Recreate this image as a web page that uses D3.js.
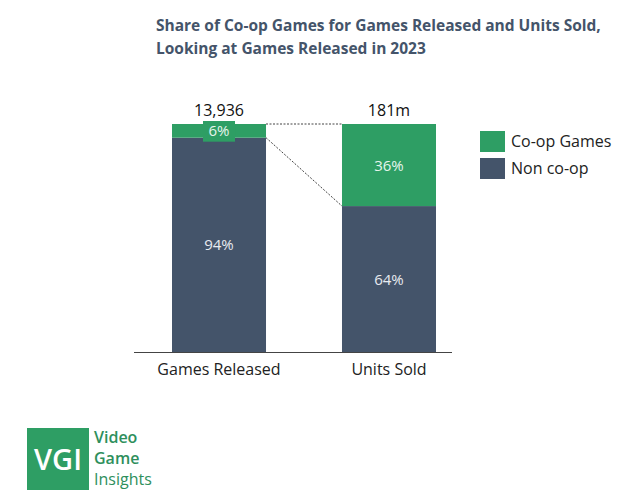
<!DOCTYPE html>
<html>
<head>
<meta charset="utf-8">
<script src="https://cdn.jsdelivr.net/npm/d3@7"></script>
<style>
  body { margin: 0; background: #fff; }
  text { font-family: "Open Sans", "Noto Sans", sans-serif; }
</style>
</head>
<body>
<div id="chart"></div>
<script>
// data
const categories = ['Games Released', 'Units Sold'];
const totals = ['13,936', '181m'];
const coop = [6, 36];
const nonCoop = [94, 64];
const seriesNames = ['Co-op Games', 'Non co-op'];
const colors = { coop: '#2e9e64', non: '#44546a' };

const svg = d3.select('#chart').append('svg')
    .attr('width', 636)
    .attr('height', 500);

// title
const title = svg.append('text')
    .attr('x', 156)
    .attr('y', 31)
    .attr('fill', '#44546a')
    .attr('font-weight', 700)
    .attr('font-size', 15.5);
title.append('tspan').attr('x', 156).text('Share of Co-op Games for Games Released and Units Sold,');
title.append('tspan').attr('x', 156).attr('dy', 23).text('Looking at Games Released in 2023');

const x = d3.scaleBand()
    .domain(categories)
    .range([138, 470])
    .paddingInner(0.447)
    .paddingOuter(0.2);

const y = d3.scaleLinear()
    .domain([0, 100])
    .range([352, 124]);

const rows = categories.map((c, i) => ({ cat: c, total: totals[i], coop: coop[i], non: nonCoop[i] }));

// connector lines between bars
const bw = x.bandwidth();
svg.append('line')
    .attr('x1', x(categories[0]) + bw).attr('y1', y(100))
    .attr('x2', x(categories[1])).attr('y2', y(100))
    .attr('stroke', '#444').attr('stroke-width', 1).attr('stroke-dasharray', '2,1.5');
svg.append('line')
    .attr('x1', x(categories[0]) + bw).attr('y1', y(nonCoop[0]))
    .attr('x2', x(categories[1])).attr('y2', y(nonCoop[1]))
    .attr('stroke', '#444').attr('stroke-width', 1).attr('stroke-dasharray', '2,1.5');

// non co-op segment
svg.selectAll('.non')
    .data(rows)
    .enter().append('rect')
    .attr('class', 'non')
    .attr('x', d => x(d.cat))
    .attr('width', bw)
    .attr('y', d => y(d.non))
    .attr('height', d => y(0) - y(d.non))
    .attr('fill', colors.non);

// co-op segment
svg.selectAll('.coop')
    .data(rows)
    .enter().append('rect')
    .attr('class', 'coop')
    .attr('x', d => x(d.cat))
    .attr('width', bw)
    .attr('y', d => y(d.non + d.coop))
    .attr('height', d => y(d.non) - y(d.non + d.coop))
    .attr('fill', colors.coop);

// small label box for the thin segment
svg.append('rect')
    .attr('x', x(categories[0]) + bw / 2 - 16)
    .attr('y', y(100) - 3)
    .attr('width', 32)
    .attr('height', y(nonCoop[0]) - y(100) + 7)
    .attr('fill', colors.coop);

svg.selectAll('.coopLabel')
    .data(rows)
    .enter().append('text')
    .attr('x', d => x(d.cat) + bw / 2)
    .attr('y', d => (y(d.non + d.coop) + y(d.non)) / 2 + 5.5)
    .attr('text-anchor', 'middle')
    .attr('font-size', 15)
    .attr('fill', '#e6f5ec')
    .text(d => d.coop + '%');

svg.selectAll('.nonLabel')
    .data(rows)
    .enter().append('text')
    .attr('x', d => x(d.cat) + bw / 2)
    .attr('y', d => (y(d.non) + y(0)) / 2 + 5.5)
    .attr('text-anchor', 'middle')
    .attr('font-size', 15)
    .attr('fill', '#e8ebf0')
    .text(d => d.non + '%');

svg.selectAll('.total')
    .data(rows)
    .enter().append('text')
    .attr('x', d => x(d.cat) + bw / 2)
    .attr('y', y(100) - 8)
    .attr('text-anchor', 'middle')
    .attr('font-size', 16)
    .attr('fill', '#111')
    .text(d => d.total);

// baseline + category axis
const axis = svg.append('g')
    .attr('transform', 'translate(0,' + y(0) + ')')
    .call(d3.axisBottom(x).tickSize(0).tickPadding(12));
axis.select('.domain').attr('stroke', '#444').attr('d', 'M134,0.5H452');
axis.selectAll('text')
    .attr('font-size', 16)
    .attr('fill', '#222')
    .style('font-family', '"Open Sans", "Noto Sans", sans-serif');

// legend
const legend = svg.append('g').attr('transform', 'translate(480,131)');
const legColors = [colors.coop, colors.non];
seriesNames.forEach((s, i) => {
    legend.append('rect')
        .attr('x', 0).attr('y', i * 27)
        .attr('width', 25).attr('height', 21)
        .attr('fill', legColors[i]);
    legend.append('text')
        .attr('x', 31).attr('y', i * 27 + 16)
        .attr('font-size', 16)
        .attr('fill', '#222')
        .text(s);
});

// logo
svg.append('rect')
    .attr('x', 27).attr('y', 428)
    .attr('width', 62).attr('height', 62)
    .attr('fill', '#2e9e64');
svg.append('text')
    .attr('x', 58).attr('y', 470)
    .attr('text-anchor', 'middle')
    .attr('font-size', 29)
    .attr('font-weight', 600)
    .attr('fill', '#fff')
    .text('VGI');
['Video', 'Game', 'Insights'].forEach((t, i) => {
    svg.append('text')
        .attr('x', 94).attr('y', 443 + i * 21)
        .attr('font-size', 16)
        .attr('font-weight', i < 2 ? 600 : 400)
        .attr('fill', '#2e8f5c')
        .text(t);
});
</script>
</body>
</html>
